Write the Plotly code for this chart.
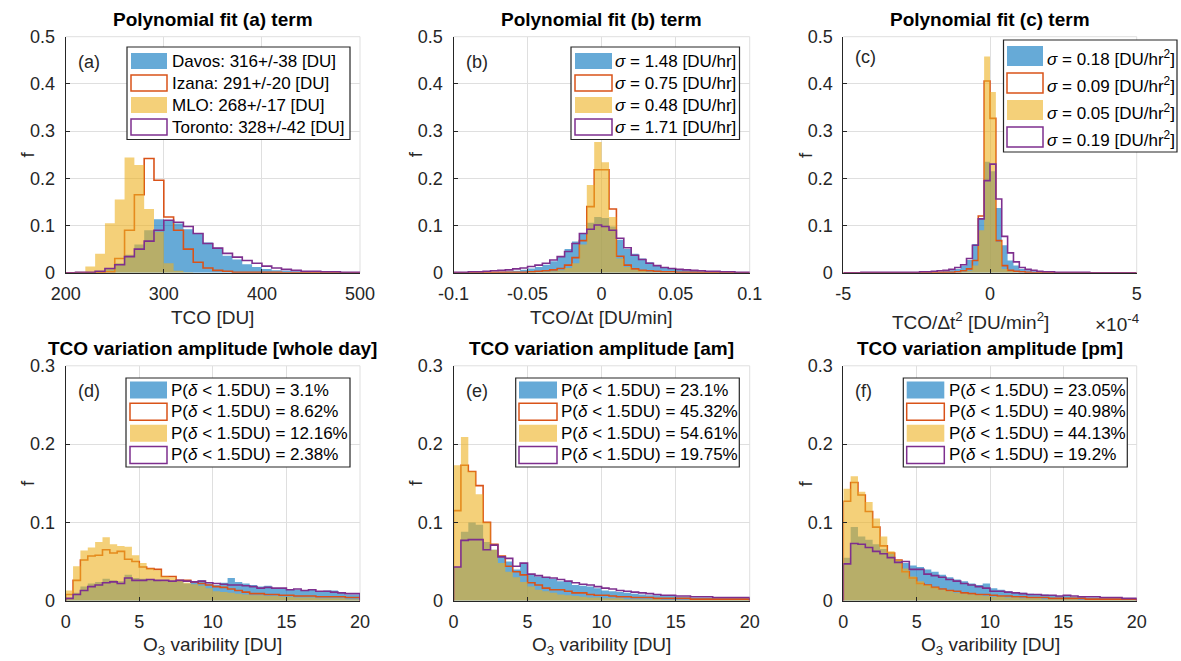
import numpy as np
import plotly.graph_objects as go

W, H = 1181, 661

# ---------------- data (histogram frequencies per bin) ----------------
# (a) TCO [DU], bins of 10 DU from 200 to 500
tco_edges_start, tco_bin = 200, 10
davos_a = [0, 0, 0.001, 0.003, 0.010, 0.020, 0.038, 0.060, 0.090, 0.113,
           0.111, 0.104, 0.092, 0.083, 0.064, 0.053, 0.036, 0.028, 0.018, 0.012,
           0.008, 0.005, 0.004, 0.003, 0.002, 0.001, 0.001, 0.001, 0.001, 0.0005]
izana_a = [0, 0, 0, 0, 0.002, 0.030, 0.090, 0.165, 0.242, 0.196,
           0.118, 0.090, 0.050, 0.022, 0.010, 0.005, 0.003, 0.001, 0.001, 0.001,
           0.001, 0.001, 0, 0, 0, 0, 0, 0, 0, 0]
mlo_a = [0, 0.002, 0.013, 0.040, 0.105, 0.155, 0.244, 0.228, 0.135, 0.087,
         0.020, 0.004, 0.001, 0, 0, 0, 0, 0, 0, 0,
         0, 0, 0, 0, 0, 0, 0, 0, 0, 0]
toronto_a = [0, 0.001, 0.001, 0.003, 0.009, 0.017, 0.034, 0.050, 0.067, 0.090,
             0.111, 0.107, 0.098, 0.083, 0.062, 0.052, 0.041, 0.033, 0.026, 0.020,
             0.014, 0.010, 0.007, 0.005, 0.003, 0.003, 0.002, 0.002, 0.001, 0.001]

# (b) TCO/dt [DU/min], bins of 0.005 from -0.1 to 0.1
rate_edges_start, rate_bin = -0.1, 0.005
davos_b = [0.001, 0.001, 0.001, 0.001, 0.001, 0.001, 0.002, 0.003, 0.004, 0.006,
           0.009, 0.012, 0.017, 0.024, 0.034, 0.050, 0.066, 0.084, 0.106, 0.118,
           0.116, 0.098, 0.070, 0.050, 0.040, 0.030, 0.022, 0.016, 0.012, 0.008,
           0.006, 0.005, 0.004, 0.003, 0.002, 0.002, 0.001, 0.001, 0.001, 0.001]
izana_b = [0, 0, 0, 0, 0, 0.001, 0.001, 0.001, 0.001, 0.001,
           0.002, 0.003, 0.004, 0.006, 0.009, 0.016, 0.032, 0.068, 0.140, 0.218,
           0.218, 0.135, 0.035, 0.016, 0.008, 0.005, 0.004, 0.003, 0.002, 0.002,
           0.001, 0.001, 0.001, 0.001, 0.001, 0, 0, 0, 0, 0]
mlo_b = [0, 0, 0, 0, 0, 0, 0, 0, 0, 0,
         0.001, 0.001, 0.002, 0.003, 0.005, 0.010, 0.020, 0.060, 0.186, 0.277,
         0.234, 0.118, 0.030, 0.012, 0.006, 0.004, 0.002, 0.001, 0.001, 0.001,
         0, 0, 0, 0, 0, 0, 0, 0, 0, 0]
toronto_b = [0.001, 0.001, 0.002, 0.002, 0.003, 0.004, 0.005, 0.006, 0.008, 0.010,
             0.013, 0.016, 0.020, 0.027, 0.034, 0.045, 0.062, 0.083, 0.092, 0.101,
             0.098, 0.090, 0.073, 0.053, 0.037, 0.028, 0.020, 0.015, 0.011, 0.009,
             0.007, 0.006, 0.005, 0.004, 0.003, 0.003, 0.002, 0.002, 0.001, 0.001]

# (c) TCO/dt^2 [DU/min^2] x1e-4, bins of 0.2 from -5 to 5
curv_edges_start, curv_bin = -5, 0.2
davos_c = [0, 0, 0, 0, 0, 0, 0, 0, 0, 0,
           0, 0, 0, 0.001, 0.001, 0.001, 0.002, 0.003, 0.005, 0.008,
           0.015, 0.027, 0.061, 0.116, 0.235, 0.215, 0.137, 0.058, 0.026, 0.015,
           0.008, 0.005, 0.003, 0.002, 0.001, 0.001, 0.001, 0, 0, 0,
           0, 0, 0, 0, 0, 0, 0, 0, 0, 0]
izana_c = [0, 0, 0, 0, 0, 0, 0, 0, 0, 0,
           0, 0, 0, 0, 0.001, 0.001, 0.001, 0.001, 0.001, 0.002,
           0.004, 0.008, 0.026, 0.120, 0.406, 0.327, 0.068, 0.015, 0.005, 0.003,
           0.002, 0.001, 0, 0, 0, 0, 0, 0, 0, 0,
           0, 0, 0, 0, 0, 0, 0, 0, 0, 0]
mlo_c = [0, 0, 0, 0, 0, 0, 0, 0, 0, 0,
         0, 0, 0, 0, 0, 0, 0, 0, 0, 0,
         0.002, 0.004, 0.015, 0.090, 0.458, 0.383, 0.065, 0.008, 0.003, 0.001,
         0, 0, 0, 0, 0, 0, 0, 0, 0, 0,
         0, 0, 0, 0, 0, 0, 0, 0, 0, 0]
toronto_c = [0, 0, 0, 0.001, 0.001, 0.001, 0.001, 0.001, 0.001, 0.001,
             0.001, 0.001, 0.001, 0.002, 0.002, 0.003, 0.004, 0.005, 0.007, 0.011,
             0.017, 0.030, 0.058, 0.114, 0.195, 0.230, 0.156, 0.077, 0.042, 0.023,
             0.011, 0.007, 0.005, 0.003, 0.002, 0.002, 0.001, 0.001, 0.001, 0.001,
             0.001, 0.001, 0, 0, 0, 0, 0, 0, 0, 0]

# (d)-(f) O3 variability [DU], bins of 0.5 from 0 to 20
var_edges_start, var_bin = 0, 0.5
davos_d = [0.003, 0.010, 0.018, 0.022, 0.024, 0.028, 0.026, 0.025, 0.033, 0.029,
           0.028, 0.027, 0.026, 0.025, 0.025, 0.025, 0.022, 0.024, 0.026, 0.022,
           0.020, 0.023, 0.029, 0.024, 0.022, 0.020, 0.018, 0.019, 0.016, 0.015,
           0.015, 0.014, 0.013, 0.014, 0.012, 0.013, 0.013, 0.010, 0.008, 0.008]
izana_d = [0.008, 0.026, 0.052, 0.057, 0.058, 0.065, 0.061, 0.063, 0.053, 0.050,
           0.043, 0.041, 0.040, 0.031, 0.031, 0.026, 0.026, 0.024, 0.022, 0.020,
           0.018, 0.017, 0.015, 0.013, 0.011, 0.009, 0.009, 0.008, 0.008, 0.007,
           0.007, 0.006, 0.006, 0.006, 0.005, 0.005, 0.005, 0.005, 0.004, 0.004]
mlo_d = [0.013, 0.044, 0.064, 0.068, 0.075, 0.081, 0.072, 0.070, 0.069, 0.058,
         0.048, 0.041, 0.039, 0.031, 0.030, 0.026, 0.023, 0.021, 0.019, 0.016,
         0.012, 0.011, 0.010, 0.009, 0.008, 0.007, 0.007, 0.006, 0.006, 0.005,
         0.005, 0.004, 0.004, 0.004, 0.003, 0.003, 0.003, 0.003, 0.002, 0.002]
toronto_d = [0.003, 0.008, 0.013, 0.018, 0.020, 0.023, 0.024, 0.022, 0.029, 0.026,
             0.026, 0.027, 0.026, 0.026, 0.025, 0.026, 0.025, 0.024, 0.025, 0.023,
             0.022, 0.021, 0.020, 0.020, 0.019, 0.018, 0.016, 0.017, 0.016, 0.016,
             0.014, 0.015, 0.013, 0.014, 0.012, 0.012, 0.011, 0.010, 0.009, 0.009]

davos_e = [0.043, 0.088, 0.100, 0.097, 0.075, 0.065, 0.056, 0.050, 0.040, 0.048,
           0.034, 0.031, 0.030, 0.028, 0.025, 0.024, 0.020, 0.019, 0.018, 0.016,
           0.013, 0.012, 0.011, 0.010, 0.009, 0.008, 0.007, 0.007, 0.006, 0.006,
           0.005, 0.005, 0.004, 0.004, 0.004, 0.003, 0.003, 0.003, 0.003, 0.003]
izana_e = [0.115, 0.173, 0.165, 0.147, 0.100, 0.072, 0.057, 0.044, 0.037, 0.033,
           0.023, 0.020, 0.016, 0.014, 0.014, 0.012, 0.010, 0.010, 0.008, 0.007,
           0.007, 0.006, 0.005, 0.005, 0.004, 0.004, 0.004, 0.003, 0.003, 0.003,
           0.003, 0.003, 0.002, 0.002, 0.002, 0.002, 0.002, 0.002, 0.002, 0.002]
mlo_e = [0.173, 0.209, 0.165, 0.136, 0.100, 0.065, 0.048, 0.037, 0.030, 0.024,
         0.018, 0.014, 0.012, 0.010, 0.008, 0.007, 0.006, 0.005, 0.004, 0.004,
         0.003, 0.003, 0.003, 0.002, 0.002, 0.002, 0.002, 0.002, 0.001, 0.001,
         0.001, 0.001, 0.001, 0.001, 0.001, 0.001, 0.001, 0.001, 0.001, 0.001]
toronto_e = [0.043, 0.077, 0.078, 0.078, 0.065, 0.071, 0.056, 0.054, 0.044, 0.048,
             0.034, 0.032, 0.030, 0.029, 0.027, 0.025, 0.023, 0.021, 0.020, 0.018,
             0.016, 0.015, 0.013, 0.012, 0.011, 0.010, 0.009, 0.008, 0.007, 0.007,
             0.006, 0.006, 0.005, 0.005, 0.005, 0.004, 0.004, 0.004, 0.004, 0.004]

davos_f = [0.055, 0.094, 0.082, 0.078, 0.072, 0.066, 0.060, 0.052, 0.048, 0.045,
           0.043, 0.040, 0.037, 0.033, 0.030, 0.027, 0.025, 0.022, 0.020, 0.022,
           0.016, 0.014, 0.012, 0.011, 0.010, 0.009, 0.008, 0.008, 0.007, 0.006,
           0.006, 0.005, 0.005, 0.004, 0.004, 0.003, 0.003, 0.003, 0.002, 0.002]
izana_f = [0.127, 0.151, 0.135, 0.114, 0.094, 0.070, 0.061, 0.052, 0.037, 0.029,
           0.022, 0.020, 0.017, 0.015, 0.013, 0.012, 0.010, 0.009, 0.008, 0.008,
           0.007, 0.006, 0.006, 0.005, 0.005, 0.004, 0.004, 0.004, 0.003, 0.003,
           0.003, 0.003, 0.003, 0.002, 0.002, 0.002, 0.002, 0.002, 0.002, 0.002]
mlo_f = [0.143, 0.159, 0.139, 0.126, 0.105, 0.082, 0.063, 0.052, 0.041, 0.031,
         0.025, 0.020, 0.017, 0.014, 0.012, 0.010, 0.009, 0.008, 0.007, 0.006,
         0.005, 0.005, 0.004, 0.004, 0.003, 0.003, 0.003, 0.002, 0.002, 0.002,
         0.002, 0.002, 0.001, 0.001, 0.001, 0.001, 0.001, 0.001, 0.001, 0.001]
toronto_f = [0.047, 0.073, 0.072, 0.068, 0.063, 0.060, 0.055, 0.049, 0.050, 0.040,
             0.040, 0.034, 0.032, 0.030, 0.027, 0.025, 0.022, 0.020, 0.018, 0.016,
             0.012, 0.012, 0.011, 0.010, 0.009, 0.008, 0.008, 0.007, 0.007, 0.006,
             0.007, 0.006, 0.005, 0.005, 0.005, 0.004, 0.004, 0.004, 0.003, 0.003]

# legend texts
legend_a = ["Davos: 316+/-38 [DU]", "Izana: 291+/-20 [DU]", "MLO: 268+/-17 [DU]", "Toronto: 328+/-42 [DU]"]
legend_b = ["<i>σ</i> = 1.48 [DU/hr]", "<i>σ</i> = 0.75 [DU/hr]", "<i>σ</i> = 0.48 [DU/hr]", "<i>σ</i> = 1.71 [DU/hr]"]
legend_c = ["<i>σ</i> = 0.18 [DU/hr<sup>2</sup>]", "<i>σ</i> = 0.09 [DU/hr<sup>2</sup>]",
            "<i>σ</i> = 0.05 [DU/hr<sup>2</sup>]", "<i>σ</i> = 0.19 [DU/hr<sup>2</sup>]"]
P = "P(<i>δ</i> &lt; 1.5DU) = "
legend_d = [P + "3.1%", P + "8.62%", P + "12.16%", P + "2.38%"]
legend_e = [P + "23.1%", P + "45.32%", P + "54.61%", P + "19.75%"]
legend_f = [P + "23.05%", P + "40.98%", P + "44.13%", P + "19.2%"]

# ---------------- styling ----------------
BLUE_FILL = "rgba(0,114,189,0.6)"
YEL_FILL = "rgba(237,177,32,0.6)"
RED = "#D95319"
PURP = "#7E2F8E"
AX = "#262626"
GRID = "#dfdfdf"
FONT = "Liberation Sans, Arial, sans-serif"
TICK_SIZE = 18
LABEL_SIZE = 19


def X(px):
    return px / W


def Y(py):
    return 1 - py / H


top_y = (36.7, 272.7)
bot_y = (365.8, 600.7)
cols = [(65.7, 360.0), (453.5, 749.7), (843.3, 1136.7)]

panels = [
    dict(col=0, row=top_y, data=(davos_a, izana_a, mlo_a, toronto_a), e0=tco_edges_start, bw=tco_bin,
         xr=[200, 500], xt=[200, 300, 400, 500], xtt=["200", "300", "400", "500"],
         yr=[0, 0.5], yt=[0, 0.1, 0.2, 0.3, 0.4, 0.5], title="Polynomial fit (a) term",
         xlab="TCO [DU]", tag="(a)", leg=legend_a,
         box=(127, 47, 350, 139.5), rows=[61, 83, 105, 127], sw=(131, 167), sh=16, tx=170),
    dict(col=1, row=top_y, data=(davos_b, izana_b, mlo_b, toronto_b), e0=rate_edges_start, bw=rate_bin,
         xr=[-0.1, 0.1], xt=[-0.1, -0.05, 0, 0.05, 0.1], xtt=["-0.1", "-0.05", "0", "0.05", "0.1"],
         yr=[0, 0.5], yt=[0, 0.1, 0.2, 0.3, 0.4, 0.5], title="Polynomial fit (b) term",
         xlab="TCO/Δt [DU/min]", tag="(b)", leg=legend_b,
         box=(571, 47, 739.5, 139.5), rows=[61, 83, 105, 127], sw=(575, 612), sh=16, tx=613),
    dict(col=2, row=top_y, data=(davos_c, izana_c, mlo_c, toronto_c), e0=curv_edges_start, bw=curv_bin,
         xr=[-5, 5], xt=[-5, 0, 5], xtt=["-5", "0", "5"],
         yr=[0, 0.5], yt=[0, 0.1, 0.2, 0.3, 0.4, 0.5], title="Polynomial fit (c) term",
         xlab=None, tag="(c)", leg=legend_c,
         box=(1003.5, 40, 1177, 152), rows=[56, 83, 110, 137], sw=(1007, 1043), sh=20, tx=1045),
    dict(col=0, row=bot_y, data=(davos_d, izana_d, mlo_d, toronto_d), e0=var_edges_start, bw=var_bin,
         xr=[0, 20], xt=[0, 5, 10, 15, 20], xtt=["0", "5", "10", "15", "20"],
         yr=[0, 0.3], yt=[0, 0.1, 0.2, 0.3], title="TCO variation amplitude [whole day]",
         xlab="O<sub>3</sub> varibility [DU]", tag="(d)", leg=legend_d,
         box=(126, 378, 350, 467), rows=[390, 411.7, 433.3, 455], sw=(130, 167), sh=17, tx=169),
    dict(col=1, row=bot_y, data=(davos_e, izana_e, mlo_e, toronto_e), e0=var_edges_start, bw=var_bin,
         xr=[0, 20], xt=[0, 5, 10, 15, 20], xtt=["0", "5", "10", "15", "20"],
         yr=[0, 0.3], yt=[0, 0.1, 0.2, 0.3], title="TCO variation amplitude [am]",
         xlab="O<sub>3</sub> varibility [DU]", tag="(e)", leg=legend_e,
         box=(515.7, 378, 739.3, 467), rows=[390, 411.7, 433.3, 455], sw=(519, 557), sh=17, tx=558.7),
    dict(col=2, row=bot_y, data=(davos_f, izana_f, mlo_f, toronto_f), e0=var_edges_start, bw=var_bin,
         xr=[0, 20], xt=[0, 5, 10, 15, 20], xtt=["0", "5", "10", "15", "20"],
         yr=[0, 0.3], yt=[0, 0.1, 0.2, 0.3], title="TCO variation amplitude [pm]",
         xlab="O<sub>3</sub> varibility [DU]", tag="(f)", leg=legend_f,
         box=(903.3, 378, 1127.3, 467), rows=[390, 411.7, 433.3, 455], sw=(906.7, 944.3), sh=17, tx=946.7),
]

fig = go.Figure()
layout = dict(width=W, height=H, margin=dict(l=0, r=0, t=0, b=0, autoexpand=False),
              paper_bgcolor="white", plot_bgcolor="white", showlegend=False,
              font=dict(family=FONT, color=AX))
shapes = []
annotations = []


def stairs(vals, e0, bw):
    n = len(vals)
    edges = e0 + bw * np.arange(n + 1)
    xs = np.concatenate([[edges[0]], edges, [edges[-1]]])
    ys = np.concatenate([[0], vals, [vals[-1], 0]])
    return xs, ys


for k, p in enumerate(panels):
    i = k + 1
    xa = "x" if i == 1 else f"x{i}"
    ya = "y" if i == 1 else f"y{i}"
    x0p, x1p = cols[p["col"]]
    ytop, ybot = p["row"]
    davos, izana, mlo, toronto = p["data"]
    styles = [("fill", BLUE_FILL, davos), ("line", RED, izana), ("fill", YEL_FILL, mlo), ("line", PURP, toronto)]
    for kind, col, vals in styles:
        xs, ys = stairs(np.array(vals, dtype=float), p["e0"], p["bw"])
        if kind == "fill":
            fig.add_trace(go.Scatter(x=xs, y=ys, mode="lines", line=dict(width=0, shape="hv"),
                                     fill="tozeroy", fillcolor=col, xaxis=xa, yaxis=ya, hoverinfo="skip"))
        else:
            fig.add_trace(go.Scatter(x=xs, y=ys, mode="lines", line=dict(width=1.6, shape="hv", color=col),
                                     xaxis=xa, yaxis=ya, hoverinfo="skip"))
    axcommon = dict(showline=True, linecolor=AX, linewidth=1, ticks="inside", ticklen=4, tickcolor=AX,
                    showgrid=True, gridcolor=GRID, gridwidth=1, zeroline=False, automargin=False,
                    tickfont=dict(family=FONT, size=TICK_SIZE, color=AX), fixedrange=True,
                    layer="above traces")
    layout["xaxis" if i == 1 else f"xaxis{i}"] = dict(
        axcommon, domain=[X(x0p), X(x1p)], range=p["xr"], tickmode="array", tickvals=p["xt"],
        ticktext=p["xtt"], anchor=ya, ticklabelstandoff=5)
    layout["yaxis" if i == 1 else f"yaxis{i}"] = dict(
        axcommon, domain=[Y(ybot), Y(ytop)], range=p["yr"], tickmode="array", tickvals=p["yt"],
        ticktext=[f"{v:g}" for v in p["yt"]], anchor=xa, ticklabelstandoff=6)

    # light top/right frame
    shapes.append(dict(type="line", xref="paper", yref="paper", x0=X(x0p), x1=X(x1p), y0=Y(ytop), y1=Y(ytop),
                       line=dict(color=GRID, width=1), layer="below"))
    shapes.append(dict(type="line", xref="paper", yref="paper", x0=X(x1p), x1=X(x1p), y0=Y(ytop), y1=Y(ybot),
                       line=dict(color=GRID, width=1), layer="below"))

    xc = (x0p + x1p) / 2
    # title
    annotations.append(dict(text=f"<b>{p['title']}</b>", x=X(xc), y=Y(ytop - 17), xref="paper", yref="paper",
                            showarrow=False, xanchor="center", yanchor="middle",
                            font=dict(family=FONT, size=19, color="black")))
    # y label
    annotations.append(dict(text="f", x=X(x0p - 38), y=Y((ytop + ybot) / 2), xref="paper", yref="paper",
                            showarrow=False, xanchor="center", yanchor="middle", textangle=-90,
                            font=dict(family=FONT, size=LABEL_SIZE, color=AX)))
    # x label
    if p["xlab"] is not None:
        annotations.append(dict(text=p["xlab"], x=X(xc), y=Y(ybot + 45), xref="paper", yref="paper",
                                showarrow=False, xanchor="center", yanchor="middle",
                                font=dict(family=FONT, size=LABEL_SIZE, color=AX)))
    # panel tag
    annotations.append(dict(text=p["tag"], x=X(x0p + 10), y=Y(p["rows"][0] + 1), xref="paper", yref="paper",
                            showarrow=False, xanchor="left", yanchor="middle",
                            font=dict(family=FONT, size=18, color=AX)))
    # legend box
    bx0, by0, bx1, by1 = p["box"]
    shapes.append(dict(type="rect", xref="paper", yref="paper", x0=X(bx0), x1=X(bx1), y0=Y(by1), y1=Y(by0),
                       line=dict(color=AX, width=1.2), fillcolor="white", layer="above"))
    sw0, sw1 = p["sw"]
    sh = p["sh"]
    swatches = [("fill", BLUE_FILL), ("line", RED), ("fill", YEL_FILL), ("line", PURP)]
    for (kind, col), ry, txt in zip(swatches, p["rows"], p["leg"]):
        if kind == "fill":
            shapes.append(dict(type="rect", xref="paper", yref="paper", x0=X(sw0), x1=X(sw1),
                               y0=Y(ry + sh / 2), y1=Y(ry - sh / 2), line=dict(width=0),
                               fillcolor=col, layer="above"))
        else:
            shapes.append(dict(type="rect", xref="paper", yref="paper", x0=X(sw0), x1=X(sw1),
                               y0=Y(ry + sh / 2), y1=Y(ry - sh / 2), line=dict(width=1.5, color=col),
                               fillcolor="white", layer="above"))
        ty = ry + (2 if p["tag"] == "(c)" else 0)
        annotations.append(dict(text=txt, x=X(p["tx"]), y=Y(ty), xref="paper", yref="paper",
                                showarrow=False, xanchor="left", yanchor="middle",
                                font=dict(family=FONT, size=17, color="black")))

# panel (c) axis label and exponent
annotations.append(dict(text="TCO/Δt<sup>2</sup> [DU/min<sup>2</sup>]", x=X(970), y=Y(321), xref="paper",
                        yref="paper", showarrow=False, xanchor="center", yanchor="middle",
                        font=dict(family=FONT, size=LABEL_SIZE, color=AX)))
annotations.append(dict(text="×10<sup>-4</sup>", x=X(1141), y=Y(323), xref="paper", yref="paper",
                        showarrow=False, xanchor="right", yanchor="middle",
                        font=dict(family=FONT, size=LABEL_SIZE, color=AX)))

layout["shapes"] = shapes
layout["annotations"] = annotations
fig.update_layout(**layout)
fig.write_html("out.html")
